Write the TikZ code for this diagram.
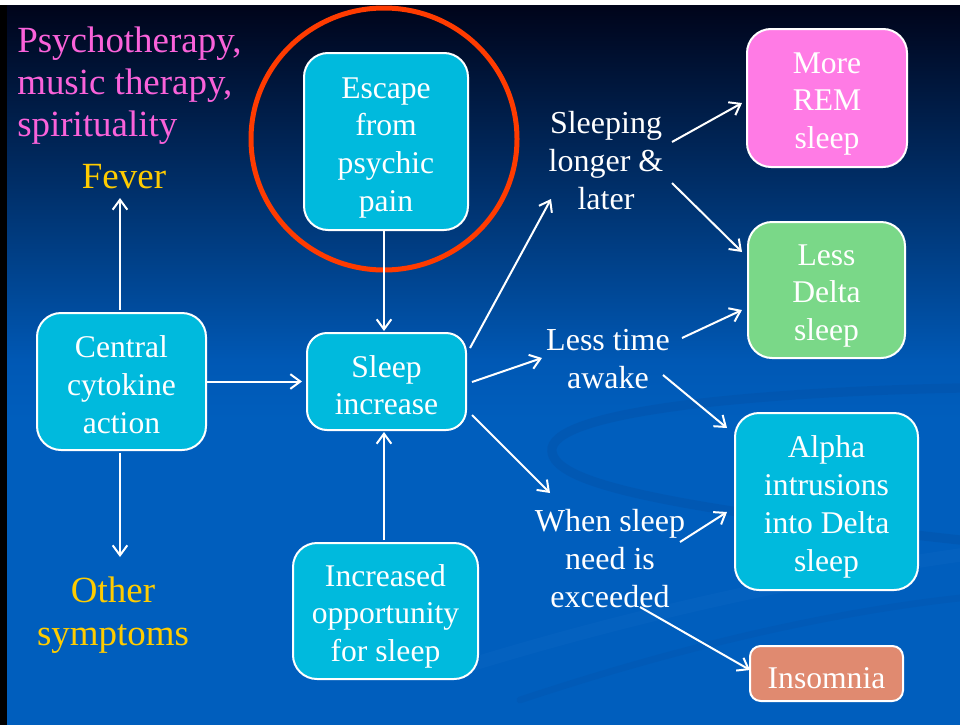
\documentclass[tikz,border=0pt]{standalone}
\usepackage{fontspec}
\setmainfont{Liberation Serif}
\usetikzlibrary{arrows.meta,shapes.geometric}
\definecolor{bgtop}{HTML}{00041A}
\definecolor{bgmid}{HTML}{0058B4}
\definecolor{bgbot}{HTML}{005EBD}
\definecolor{boxcyan}{HTML}{00BADD}
\definecolor{boxpink}{HTML}{FF7BE5}
\definecolor{boxgreen}{HTML}{7AD888}
\definecolor{boxsalmon}{HTML}{E08A70}
\definecolor{txtpink}{HTML}{FA62DA}
\definecolor{txtyellow}{HTML}{FFCC00}
\definecolor{ringred}{HTML}{FF3B00}
\definecolor{swdark}{HTML}{0450A6}
\definecolor{swlight}{HTML}{1068C4}
\newcommand\boxgap[1][24.5pt]{\rule{0pt}{#1}}
\tikzset{
  box/.style={draw=white, line width=1.5pt, rounded corners=18pt, fill=boxcyan,
    text=white, align=center, inner sep=0pt,
    font=\fontsize{23.7}{28.4}\selectfont},
  lab/.style={text=white, align=center, inner sep=0pt,
    font=\fontsize{24}{28.5}\selectfont},
  biglab/.style={inner sep=0pt, font=\fontsize{27.7}{32.5}\selectfont},
  arr/.style={draw=white, line width=1.5pt,
    -{Straight Barb[length=7.5pt,width=11pt,line width=1.5pt]}},
  swoosh/.style={line width=7pt, opacity=0.4, line cap=round}
}
\begin{document}
\begin{tikzpicture}[x=0.75pt,y=-0.75pt]
\useasboundingbox (0,0) rectangle (960,725);
% background
\fill[white] (0,0) rectangle (960,725);
\fill[black] (0,5) rectangle (7,725);
\shade[top color=bgtop, bottom color=bgmid] (7,5) rectangle (960,360);
\fill[bgbot] (7,360) rectangle (960,725);
\shade[top color=bgmid, bottom color=bgbot] (7,359) rectangle (960,420);
% faint swooshes
\draw[swoosh, swdark] (960,388) .. controls (760,392) and (560,410) .. (552,448)
  .. controls (548,480) and (640,505) .. (960,540);
\draw[swoosh, swlight, line width=10pt, opacity=0.3] (470,665) .. controls (650,610) and (820,575) .. (960,555);
\draw[swoosh, swdark, line width=5pt, opacity=0.25] (520,700) .. controls (700,640) and (850,610) .. (960,598);

% ring
\node[draw=ringred, line width=3.75pt, ellipse, minimum width=199.5pt,
  minimum height=196.5pt, inner sep=0pt] (ring) at (384,139) {};

% boxes
\node[box, minimum width=123pt, minimum height=132.75pt] (escape) at (386,141.5)
  {\boxgap[25pt]Escape\\from\\psychic\\pain};
\node[box, minimum width=119.25pt, minimum height=72.75pt, rounded corners=15pt] (sleep) at (386.5,381.5)
  {\boxgap[22pt]Sleep\\increase};
\node[box, minimum width=126.75pt, minimum height=102.75pt] (cyt) at (121.5,381.5)
  {\boxgap[21.5pt]Central\\cytokine\\action};
\node[box, minimum width=138.75pt, minimum height=102pt] (incr) at (385.5,611)
  {\boxgap Increased\\opportunity\\for sleep};
\node[box, fill=boxpink, minimum width=120pt, minimum height=103.5pt] (rem) at (827,98)
  {\boxgap More\\REM\\sleep};
\node[box, fill=boxgreen, minimum width=117.75pt, minimum height=102pt] (delta) at (826.5,290)
  {\boxgap Less\\Delta\\sleep};
\node[box, minimum width=137.25pt, minimum height=132.75pt] (alpha) at (826.5,501.5)
  {\boxgap Alpha\\intrusions\\into Delta\\sleep};
\node[box, fill=boxsalmon, rounded corners=8pt, minimum width=114.75pt, minimum height=41.25pt] (insom) at (826.5,673.5)
  {\boxgap[22.5pt]Insomnia};

% free labels
\node[biglab, text=txtpink, align=left, anchor=west, font=\fontsize{27.7}{31.5}\selectfont] (pink) at (17,86)
  {Psychotherapy,\\music therapy,\\spirituality};
\node[biglab, text=txtyellow] (fever) at (124,177) {Fever};
\node[biglab, text=txtyellow, align=center] (other) at (113,615) {Other\\symptoms};
\node[lab] (sleeping) at (606,161) {Sleeping\\longer \&\\later};
\node[lab] (lesstime) at (608,359) {Less time\\awake};
\node[lab] (when) at (610,559) {When sleep\\need is\\exceeded};

% connectors
\draw[arr] ([shift={(-1.5,-71.5)}]cyt.center) -- ([shift={(-4,21)}]fever.center);
\draw[arr] ([shift={(-1.5,71.5)}]cyt.center) -- ([shift={(7,-58)}]other.center);
\draw[arr] (cyt.east) -- ([shift={(-4,0)}]sleep.west);
\draw[arr] ([shift={(-2,0)}]escape.south) -- ([shift={(-2.5,-1)}]sleep.north);
\draw[arr] ([shift={(-1.5,-2)}]incr.north) -- ([shift={(-2.5,1)}]sleep.south);
\draw[arr] ([shift={(83.5,-33.5)}]sleep.center) -- ([shift={(-55,38)}]sleeping.center);
\draw[arr] ([shift={(85.5,0.5)}]sleep.center) -- ([shift={(-66,-1)}]lesstime.center);
\draw[arr] ([shift={(85.5,33.5)}]sleep.center) -- ([shift={(-60,-66)}]when.center);
\draw[arr] ([shift={(66,-19)}]sleeping.center) -- ([shift={(-85,5)}]rem.center);
\draw[arr] ([shift={(66,22)}]sleeping.center) -- ([shift={(-84.5,-38)}]delta.center);
\draw[arr] ([shift={(74,-21)}]lesstime.center) -- ([shift={(-84.5,20)}]delta.center);
\draw[arr] ([shift={(55,16)}]lesstime.center) -- ([shift={(-99.5,-73.5)}]alpha.center);
\draw[arr] ([shift={(70,-17)}]when.center) -- ([shift={(-99.5,10.5)}]alpha.center);
\draw[arr] ([shift={(30,48)}]when.center) -- ([shift={(-76.5,-3.5)}]insom.center);
\end{tikzpicture}
\end{document}
